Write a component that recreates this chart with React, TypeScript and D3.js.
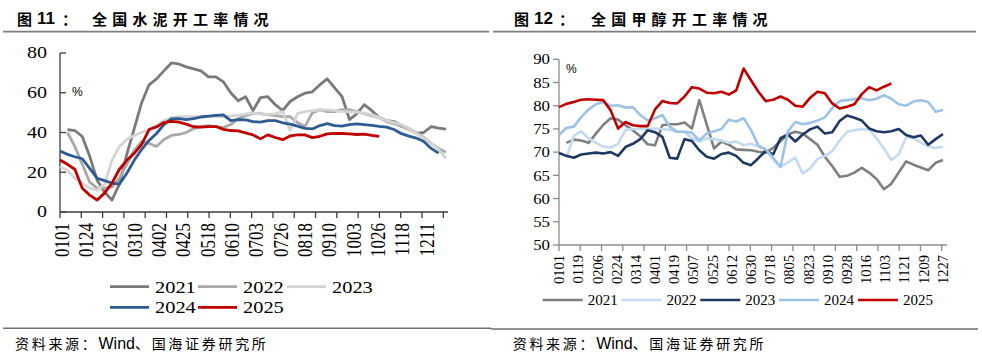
import React from 'react';
import * as d3 from 'd3';

// ---------- shared ----------
const WEEKS = d3.range(53);
const YEARS = ['2021', '2022', '2023', '2024', '2025'];

// ---------- left chart: cement ----------
const L_X_LABELS = ['0101', '0124', '0216', '0310', '0402', '0425', '0518', '0610', '0703', '0726', '0818', '0910', '1003', '1026', '1118', '1211'];
const L_Y_TICKS = [0, 20, 40, 60, 80];
const L_COLORS = ['#7a7a7a', '#a9a9a9', '#d4d4d4', '#2d5b94', '#c00000'];

const cement2021 = [null, 41.5, 41, 38, 28, 16, 10, 6, 14, 29, 42, 55, 64, 67, 71, 75, 74.5, 73, 72, 71, 68, 68, 65.5, 60, 56, 58, 51, 57.5, 58, 54, 51, 55.6, 58, 59.8, 60.5, 64, 67, 62.5, 58, 46.5, 49.5, 54, 51, 47.5, 46, 45.5, 43.5, 42, 39.6, 40, 43, 42.2, 41.7];
const cement2022 = [null, 40, 33, 24, 15, 12, 12, 12.5, 17, 24, 31, 35.5, 34.5, 33, 36.5, 38.5, 39, 40, 42, 43, 43.5, 43, 42.5, 44, 47, 48.5, 49.5, 49.5, 49, 48.5, 48, 48, 45, 43, 50, 51.4, 50.5, 50.5, 51.5, 51.5, 50.5, 49.5, 48.5, 47.5, 45.5, 44.5, 43, 41.5, 40, 37.5, 34.5, 32, 30];
const cement2023 = [22.8, 21, 17, 14.5, 12, 11, 14, 26, 33, 36.5, 38.5, 40, 41.5, 43.5, 46, 47.5, 48, 48, 48, 48, 48, 48, 48, 48.3, 48.7, 49.3, 49.7, 49.4, 49, 49.5, 50.5, 41, 49.5, 50.5, 51, 51.4, 51.4, 51, 50.5, 50.5, 50.2, 49.6, 49, 47.5, 46, 45, 44, 42, 39.5, 37, 34.5, 31.5, 27];
const cement2024 = [30.7, 29, 27.8, 26.8, 22, 17, 15.8, 14.5, 14, 19.5, 26, 31.5, 36, 39.5, 44, 46.8, 47, 46.5, 47, 47.8, 48.2, 48.6, 48.9, 46, 46.5, 46.4, 45.5, 45.2, 46, 46, 44.9, 44.2, 43.2, 42.1, 41.8, 43.5, 44.5, 43.5, 43.2, 44, 44.3, 44, 43.6, 43.1, 42.7, 41.5, 39.4, 38.2, 37.2, 35.5, 32, 29.6, null];
const cement2025 = [26.2, 24, 21.5, 12, 8.5, 6, 9.5, 14.5, 21.5, 26, 29.5, 34, 41.5, 42.8, 45, 45.6, 45.2, 44.2, 42.9, 42.7, 43, 43, 41.6, 41, 40.8, 39.8, 38.8, 36.8, 38.8, 37.5, 36.4, 38.3, 38.8, 38.8, 37.4, 38.1, 39.3, 39.6, 39.5, 39.3, 39, 39.2, 38.6, 38, null, null, null, null, null, null, null, null, null];
const CEMENT = [cement2021, cement2022, cement2023, cement2024, cement2025];

// ---------- right chart: methanol ----------
const R_X_LABELS = ['0101', '0119', '0206', '0224', '0314', '0401', '0419', '0507', '0525', '0612', '0630', '0718', '0805', '0823', '0910', '0928', '1016', '1103', '1121', '1209', '1227'];
const R_Y_TICKS = [50, 55, 60, 65, 70, 75, 80, 85, 90];
const R_COLORS = ['#7f7f7f', '#c3daf0', '#1f3864', '#9cc3e6', '#c00000'];

const meth2021 = [null, 72, 72.7, 72.5, 72, 74, 75.9, 77.3, 77, 75.8, 74.7, 73.4, 71.7, 71.5, 75.8, 76, 76, 76.4, 75.1, 81.2, 76, 70.8, 72.3, 71.6, 70.6, 70.5, 70.4, 70.1, 69.9, 70.9, 72.4, 73.8, 74.4, 74, 72.8, 71.6, 69, 67, 64.7, 64.9, 65.6, 66.6, 65.6, 64.2, 62, 63.2, 65.6, 68, 67.3, 66.7, 66.1, 67.7, 68.3];
const meth2022 = [null, 68.8, 73.5, 74.5, 73, 72, 71.2, 71, 71.8, 74.8, 75, 75, 75, 75.1, 75, 74.8, 74.4, 74.4, 73, 72.3, 73, 72.8, 72.5, 72, 72.3, 71.5, 71.8, 71.2, 70.5, 68.5, 66.8, 67.8, 68.8, 65.4, 66.5, 68.5, 69.2, 70.2, 72.5, 74.4, 74.7, 75, 74.8, 73, 70.8, 68.3, 69.5, 73.2, 73, 72.1, 71.2, 70.9, 71.2];
const meth2023 = [69.8, 69.2, 68.8, 69.5, 69.7, 69.9, 69.7, 70, 69.2, 71.1, 71.8, 72.8, 74.7, 74.3, 73.3, 68.8, 68.6, 72.8, 72.4, 70.4, 69, 68.6, 69.6, 69.9, 69.2, 67.7, 67.2, 68.7, 70.3, 69.5, 73, 73.8, 72.3, 73.8, 74.9, 75.5, 74, 74.3, 76.7, 77.9, 77.4, 76.8, 75.1, 74.5, 74.3, 74.5, 75, 73.7, 73.2, 73.6, 71.6, 72.8, 73.9];
const meth2024 = [73.7, 75.2, 75.5, 77.5, 79.2, 80.3, 80.8, 80, 80.1, 79.6, 79.7, 78, 76.8, 77.3, 78, 75.5, 74.4, 74.4, 74.2, 72.5, 74, 74.5, 75, 77, 76.6, 77.3, 74.8, 71.4, 70.6, 68.8, 66.8, 74.5, 76.5, 76, 76.3, 76.8, 77.5, 79.5, 81, 81.2, 81.4, 81.6, 81.2, 81.5, 82.3, 81.5, 80.3, 80, 80.9, 81.2, 80.8, 78.7, 79.1];
const meth2025 = [79.7, 80.4, 80.8, 81.3, 81.4, 81.3, 81.2, 79, 75.1, 76.5, 75.8, 75.6, 75.6, 79.2, 81, 80.6, 80.5, 82, 84, 83.7, 82.8, 82.7, 83, 82.4, 83.3, 88, 85.5, 83, 81, 81.3, 82, 81.3, 80, 79.8, 81.7, 83, 82.7, 80.5, 79.4, 79.8, 80.3, 82.5, 84, 83.3, 84.1, 84.8, null, null, null, null, null, null, null];
const METHANOL = [meth2021, meth2022, meth2023, meth2024, meth2025];

const SERIF = '"Liberation Serif", "Times New Roman", serif';
const SANS = '"Liberation Sans", Arial, sans-serif';
const CJK = '"Noto Sans CJK SC", sans-serif';

type TProps = {
  x: number; y: number; size: number; sx?: number; anchor?: string; rot?: boolean;
  family?: string; weight?: any; fill?: string; children: any; ls?: number;
};
function Txt({ x, y, size, sx = 1, anchor = 'start', rot = false, family = SERIF, weight = 'normal', fill = '#000', children, ls = 0 }: TProps) {
  return (
    <text
      transform={`translate(${x},${y}) scale(${sx},1)${rot ? ' rotate(-90)' : ''}`}
      fontSize={size}
      textAnchor={anchor as any}
      dominantBaseline="central"
      fontFamily={family}
      fontWeight={weight}
      fill={fill}
      letterSpacing={ls}
    >
      {children}
    </text>
  );
}

function Title({ x, num, text, cx }: { x: number; num: string; text: string; cx: number }) {
  return (
    <g>
      <Txt x={x} y={18.5} size={15} family={CJK} weight="bold">图</Txt>
      <Txt x={x + 20} y={18.5} size={17} family={SANS} weight="bold">{num}</Txt>
      <Txt x={x + 45} y={18.5} size={15} family={CJK} weight="bold">：</Txt>
      <Txt x={cx} y={18.5} size={15} family={CJK} weight="bold" ls={5.2}>{text}</Txt>
    </g>
  );
}

function Footer({ x, y }: { x: number; y: number }) {
  return (
    <text x={x} y={y} dominantBaseline="central" fontSize={14} fontFamily={CJK} fill="#000">
      <tspan letterSpacing={2.7}>资料来源：</tspan>
      <tspan fontFamily={SANS} fontSize={16}>Wind</tspan>
      <tspan letterSpacing={2.7}>、国海证券研究所</tspan>
    </text>
  );
}

function CementChart() {
  const x = d3.scaleLinear().domain([0, 52]).range([60, 446]);
  const xLab = d3.scaleLinear().domain([0, L_X_LABELS.length - 1]).range([61.7, 426.7]);
  const xTick = d3.scaleLinear().domain([0, 18]).range([60, 443.3]);
  const y = d3.scaleLinear().domain([0, 80]).range([212, 53]);
  const line = d3.line<number | null>()
    .defined((d) => d != null)
    .x((_, i) => x(WEEKS[i]))
    .y((d) => y(d as number));
  const axisColor = '#3c3c3c';
  return (
    <g>
      <line x1={60} x2={60} y1={y(80)} y2={y(0)} stroke={axisColor} strokeWidth={1.3} />
      {L_Y_TICKS.map((t) => (
        <g key={t}>
          <line x1={60} x2={66} y1={y(t)} y2={y(t)} stroke={axisColor} strokeWidth={1.3} />
          <Txt x={47} y={y(t)} size={16} sx={1.25} anchor="end">{t}</Txt>
        </g>
      ))}
      <line x1={60} x2={448} y1={y(0)} y2={y(0)} stroke={axisColor} strokeWidth={1.3} />
      {d3.range(19).map((i) => (
        <line key={i} x1={xTick(i)} x2={xTick(i)} y1={y(0)} y2={y(0) + 6} stroke={axisColor} strokeWidth={1.3} />
      ))}
      {L_X_LABELS.map((lab, i) => (
        <Txt key={lab} x={xLab(i)} y={223} size={17} sx={1.2} anchor="end" rot>{lab}</Txt>
      ))}
      <Txt x={72} y={91.5} size={12} family={SANS}>%</Txt>
      {CEMENT.map((s, k) => (
        <path key={k} d={line(s) || ''} fill="none" stroke={L_COLORS[k]} strokeWidth={2.8} strokeLinejoin="round" />
      ))}
      {YEARS.map((yr, k) => {
        const col = k % 3;
        const row = Math.floor(k / 3);
        const lx = [110, 198, 287][col];
        const ly = [286.7, 307.3][row];
        return (
          <g key={yr}>
            <line x1={lx} x2={lx + 39} y1={ly} y2={ly} stroke={L_COLORS[k]} strokeWidth={2.8} />
            <Txt x={lx + 45} y={ly} size={17} sx={1.2}>{yr}</Txt>
          </g>
        );
      })}
    </g>
  );
}

function MethanolChart() {
  const x = d3.scaleLinear().domain([0, 52]).range([559, 943]);
  const xLab = d3.scaleLinear().domain([0, R_X_LABELS.length - 1]).range([559.3, 942.7]);
  const xTick = d3.scaleLinear().domain([0, 18]).range([559, 941.7]);
  const y = d3.scaleLinear().domain([50, 90]).range([245, 59.3]);
  const line = d3.line<number | null>()
    .defined((d) => d != null)
    .x((_, i) => x(WEEKS[i]))
    .y((d) => y(d as number));
  const axisColor = '#8c8c8c';
  return (
    <g>
      <line x1={559} x2={559} y1={y(90)} y2={y(50)} stroke={axisColor} strokeWidth={1.3} />
      {R_Y_TICKS.map((t) => (
        <g key={t}>
          <line x1={553} x2={559} y1={y(t)} y2={y(t)} stroke={axisColor} strokeWidth={1.3} />
          <Txt x={550} y={y(t)} size={15} sx={1.12} anchor="end">{t}</Txt>
        </g>
      ))}
      <line x1={559} x2={947} y1={y(50)} y2={y(50)} stroke={axisColor} strokeWidth={1.3} />
      {d3.range(19).map((i) => (
        <line key={i} x1={xTick(i)} x2={xTick(i)} y1={y(50)} y2={y(50) + 6} stroke={axisColor} strokeWidth={1.3} />
      ))}
      {R_X_LABELS.map((lab, i) => (
        <Txt key={lab} x={xLab(i)} y={255} size={14.5} anchor="end" rot>{lab}</Txt>
      ))}
      <Txt x={566} y={68.5} size={12} family={SANS}>%</Txt>
      {METHANOL.map((s, k) => (
        <path key={k} d={line(s) || ''} fill="none" stroke={R_COLORS[k]} strokeWidth={2.6} strokeLinejoin="round" />
      ))}
      {YEARS.map((yr, k) => {
        const lx = 542.7 + k * 78.8;
        const ly = 300;
        return (
          <g key={yr}>
            <line x1={lx} x2={lx + 40} y1={ly} y2={ly} stroke={R_COLORS[k]} strokeWidth={2.6} />
            <Txt x={lx + 45} y={ly} size={15}>{yr}</Txt>
          </g>
        );
      })}
    </g>
  );
}

export default function App() {
  return (
    <svg width={982} height={360} viewBox="0 0 982 360" style={{ position: 'absolute', left: 0, top: 0, background: '#fff' }}>
      <rect x={0} y={0} width={982} height={360} fill="#fff" />
      <Title x={17} num="11" text="全国水泥开工率情况" cx={92} />
      <Title x={514} num="12" text="全国甲醇开工率情况" cx={591} />
      <line x1={3} x2={489} y1={31.7} y2={31.7} stroke="#7f7f7f" strokeWidth={1.7} />
      <line x1={493} x2={976} y1={31.7} y2={31.7} stroke="#7f7f7f" strokeWidth={1.7} />
      <CementChart />
      <MethanolChart />
      <line x1={3} x2={491} y1={328.3} y2={328.3} stroke="#6f6f6f" strokeWidth={1.5} />
      <line x1={491} x2={978} y1={329} y2={329} stroke="#6f6f6f" strokeWidth={1.5} />
      <Footer x={15} y={342.7} />
      <Footer x={512.7} y={342.7} />
    </svg>
  );
}
